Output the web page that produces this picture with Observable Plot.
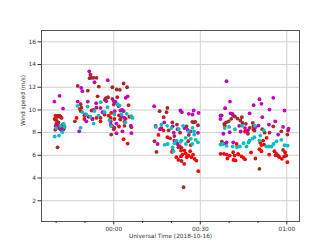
<!DOCTYPE html>
<html>
<head>
<meta charset="utf-8">
<script src="https://cdn.jsdelivr.net/npm/d3@7"></script>
<script src="https://cdn.jsdelivr.net/npm/@observablehq/plot@0.6"></script>
<style>
  html, body { margin: 0; padding: 0; background: #fff; }
  #chart { width: 332px; height: 249px; }
</style>
</head>
<body>
<div id="chart"></div>
<script>
// Minutes relative to 2018-10-16 00:00 UTC, wind speed (m/s)
const redSeries = [
  [-20.2,9.5],[-19.5,9.4],[-18.8,9.5],[-19.9,8.8],[-19.2,8.6],[-18.5,8.3],[-17.8,8.7],[-17.1,8.5],[-20.5,9.2],[-18.1,9.3],
  [-7.7,9.95],[-0.9,9.74],[1.8,8.54],[3.4,7.42],[4.8,7.04],[-12.9,9.3],[-11.5,9.9],[-10.2,9.2],[-8.8,9.4],[-7.4,9.2],
  [-6.0,9.3],[-4.6,9.0],[-3.2,9.6],[-1.1,9.3],[0.2,9.2],[1.8,9.53],[2.3,9.15],[4.1,9.22],[5.4,9.4],[0.2,8.42],[3.7,8.95],
  [15.5,7.8],[17.2,8.2],[18.6,7.6],
  [21.7,5.84],[22.4,5.6],[23.3,5.9],[23.8,6.07],[24.4,5.25],[24.9,6.18],[25.3,5.84],[25.8,5.99],[26.9,5.84],[27.5,6.07],
  [23.3,6.42],[24.5,6.42],[28.0,5.69],[28.6,5.54],[29.3,4.6],[20.2,6.3],[20.4,6.42],[22.8,6.8],[26.5,6.36],[21.7,7.1],[26.7,6.9],
  [37.0,6.13],[38.2,6.13],[39.1,6.07],[40.2,5.98],[41.4,6.27],[41.9,5.98],[43.1,6.13],[39.4,5.72],[41.5,5.6],[43.2,6.07],
  [44.3,5.9],[45.5,5.65],[42.6,7.0],[47.6,6.25],[45.0,5.78],[42.2,5.55],[53.9,6.07],[53.0,7.54],[57.4,5.84],[58.3,5.69],
  [59.1,5.9],[59.4,6.27],[56.4,6.13],[57.0,5.98],[60.2,5.4],[50.8,7.1],[51.8,7.3],[51.2,6.9],[50.5,6.54],[51.2,6.36],
  [52.1,6.95],[48.4,8.27],[55.7,6.36],[56.1,6.0],[38.5,8.6],[45.5,8.1]
];
const brownSeries = [
  [-20.3,8.25],[-19.5,6.71],[-19.5,9.5],[-18.5,9.4],[-18.1,8.4],[-17.4,8.3],[-19.2,8.9],[-20.0,9.1],
  [-12.5,12.12],[-9.0,11.7],[-8.1,13.1],[-7.7,12.83],[-8.4,12.8],[-7.0,12.83],[-6.0,12.83],[-5.2,12.06],[-5.6,11.2],
  [-2.8,11.03],[-3.1,10.89],[-11.5,10.5],[-11.2,10.2],[-11.8,10.1],[-6.0,10.2],[-0.5,12.0],[1.0,11.8],[2.1,11.77],
  [3.4,12.33],[4.6,12.0],[1.2,11.12],[-0.5,10.98],[5.1,10.42],[-0.9,7.83],[0.0,8.3],[6.1,8.48],[-9.8,9.6],[-4.6,9.3],
  [-1.8,9.5],[2.3,9.2],[-2.0,11.12],[0.0,10.47],[1.6,10.36],[2.9,10.0],[3.7,8.6],[-13.5,9.0],
  [14.1,7.24],[14.8,6.3],[18.6,10.18],[18.3,9.8],[15.9,9.89],[17.3,9.36],[20.3,8.9],[21.9,8.71],[25.2,8.56],[27.2,8.95],
  [27.7,8.9],[28.3,8.95],[29.2,8.65],[24.2,3.19],[23.5,5.5],[22.4,6.71],[23.5,6.66],[25.8,7.24],[16.5,8.4],[19.0,8.2],
  [23.0,8.0],[26.0,7.8],[19.5,7.5],[21.0,7.7],
  [37.4,9.53],[41.4,9.48],[42.0,9.42],[42.9,9.24],[44.4,9.36],[43.9,9.07],[40.7,9.22],[39.8,9.0],[38.9,8.9],[38.3,8.77],
  [44.6,8.86],[45.8,8.78],[48.2,8.86],[48.4,8.56],[47.1,8.42],[48.8,8.18],[55.3,8.56],[58.1,8.12],[60.4,8.18],[50.5,4.81],
  [49.1,5.72],[56.4,6.0],[58.7,6.48],[59.8,5.98],[60.2,7.83],[52.3,8.0],[54.0,8.0],[37.5,7.2],[38.8,7.05],[51.5,8.3],[46.5,7.9]
];
const magentaSeries = [
  [-20.6,10.74],[-18.8,11.24],[-17.6,10.12],[-20.2,8.6],[-19.2,8.4],[-18.1,8.2],[-17.4,8.7],[-12.0,8.12],
  [-12.5,10.74],[-11.3,11.95],[-10.9,11.65],[-9.0,10.74],[-8.5,13.4],[-6.7,12.44],[-2.1,12.62],[-2.6,10.77],[-6.1,10.6],
  [-4.6,10.18],[4.1,11.07],[4.8,11.2],[0.6,10.7],[0.0,10.77],[1.7,10.36],[2.3,9.95],[0.9,7.95],[3.0,8.12],[6.1,7.95],
  [-10.2,9.5],[-7.4,9.2],[-3.9,9.8],[-1.1,9.0],[3.7,9.3],[2.7,9.45],[-1.0,8.71],[-0.5,8.56],[0.9,8.8],[5.9,8.62],
  [3.4,9.89],[0.3,9.89],[-7.0,10.0],[-9.5,9.0],
  [14.0,10.33],[15.2,7.0],[20.8,8.0],[23.1,9.95],[23.6,9.8],[26.0,9.66],[27.3,9.6],[27.7,9.95],[29.4,9.74],[20.4,8.56],
  [24.5,8.4],[25.6,8.25],[22.1,8.3],[29.2,7.98],[14.5,8.6],[16.0,8.3],[17.5,8.9],[22.1,7.0],[21.0,7.3],[26.5,8.1],
  [39.1,12.53],[40.3,10.74],[50.5,10.94],[51.2,10.54],[55.3,11.07],[48.5,10.42],[47.1,9.7],[54.0,10.03],[59.2,9.95],
  [51.5,9.36],[56.0,9.0],[53.8,8.71],[58.7,8.5],[60.6,8.36],[49.1,8.48],[50.2,8.62],[38.6,10.15],[37.0,9.5],[37.0,9.2],
  [40.5,9.7],[41.2,9.65],[38.0,7.9],[40.2,8.04],[41.4,7.15],[39.1,7.15],[57.0,7.83],[43.5,8.6],[45.5,8.4],[46.5,8.2],[44.0,8.1]
];
const cyanSeries = [
  [-20.5,7.66],[-19.0,7.74],[-17.9,8.04],[-19.9,8.4],[-18.5,8.6],[-17.4,8.8],[-17.1,8.5],[-11.5,8.42],
  [-12.6,10.36],[-9.1,10.3],[-4.5,10.68],[-2.2,10.24],[1.3,10.5],[2.0,10.4],[-0.9,8.57],[-10.9,9.8],[-9.5,9.6],[-8.1,9.4],
  [-6.7,9.9],[-5.3,9.5],[-3.2,9.8],[0.2,9.6],[2.7,9.6],[4.5,9.66],[6.0,9.45],[6.5,9.3],[-7.0,8.8],[-1.5,9.1],[4.0,8.9],
  [14.6,8.5],[17.6,6.93],[18.7,7.0],[20.4,6.71],[21.0,7.07],[20.7,6.36],[23.5,7.3],[25.0,7.0],[26.7,7.45],[28.4,7.37],
  [29.2,7.15],[27.2,7.0],[21.7,7.3],[23.1,7.19],[24.9,7.54],[27.9,7.83],[26.0,8.12],[27.3,8.42],[27.8,8.12],[16.5,8.7],
  [18.5,8.6],[20.0,8.4],[22.5,8.3],[24.0,8.6],
  [37.0,6.95],[37.8,7.0],[39.1,6.84],[41.2,6.78],[42.7,6.71],[43.7,6.78],[45.0,7.07],[46.7,7.13],[48.1,7.48],[50.5,7.3],
  [46.0,6.78],[47.1,7.3],[48.8,7.6],[50.8,7.74],[52.9,6.78],[53.8,6.78],[54.7,6.78],[55.4,7.0],[56.4,7.24],[58.1,7.37],
  [59.2,6.89],[60.3,6.86],[38.5,8.4],[40.0,8.5],[42.0,8.3],[44.5,8.6],[49.0,8.6],[52.0,8.2]
];
const yTicks = [2, 4, 6, 8, 10, 12, 14, 16];
const majorMinutes = [0, 30, 60];
const minorMinutes = [-20, -10, 10, 20, 40, 50];
const yLabel = "Wind speed (m/s)";
const xLabel = "Universal Time (2018-10-16)";

const base = Date.UTC(2018, 9, 16, 0, 0, 0);
const toDate = m => new Date(base + m * 60000);
const rows = arr => arr.map(([m, v]) => ({t: toDate(m), v}));

const font = "DejaVu Sans, sans-serif";
const dot = (arr, color) => Plot.dot(rows(arr), {x: "t", y: "v", r: 1.9, fill: color, stroke: null});

const chart = Plot.plot({
  width: 332,
  height: 249,
  marginLeft: 41,
  marginRight: 33,
  marginTop: 30,
  marginBottom: 28,
  style: {fontFamily: font, fontSize: "5.8px", color: "#333", background: "#fff"},
  x: {type: "utc", domain: [toDate(-25.07), toDate(64.4)]},
  y: {domain: [0.17, 17]},
  marks: [
    Plot.gridY(yTicks, {stroke: "#cfcfcf", strokeOpacity: 1, strokeWidth: 1}),
    Plot.gridX(majorMinutes.map(toDate), {stroke: "#cfcfcf", strokeOpacity: 1, strokeWidth: 1}),
    dot(redSeries, "#ff0000"),
    dot(brownSeries, "#a52a2a"),
    dot(magentaSeries, "#bf00bf"),
    dot(cyanSeries, "#00bfbf"),
    Plot.frame({stroke: "#555", strokeWidth: 1}),
    Plot.axisY(yTicks, {tickSize: 3.5, tickPadding: 2, tickFormat: d => String(d), label: null}),
    Plot.axisX(majorMinutes.map(toDate), {tickSize: 3.5, tickPadding: 2, tickFormat: d3.utcFormat("%H:%M"), label: null}),
    Plot.axisX(minorMinutes.map(toDate), {tickSize: 2, tickFormat: () => "", label: null}),
    Plot.text([yLabel], {text: d => d, frameAnchor: "left", rotate: -90, dx: -18.5, fontSize: 5.8, fill: "#333"}),
    Plot.text([xLabel], {text: d => d, frameAnchor: "bottom", dy: 16.5, fontSize: 5.8, fill: "#333"})
  ]
});
document.getElementById("chart").appendChild(chart);
</script>
</body>
</html>
